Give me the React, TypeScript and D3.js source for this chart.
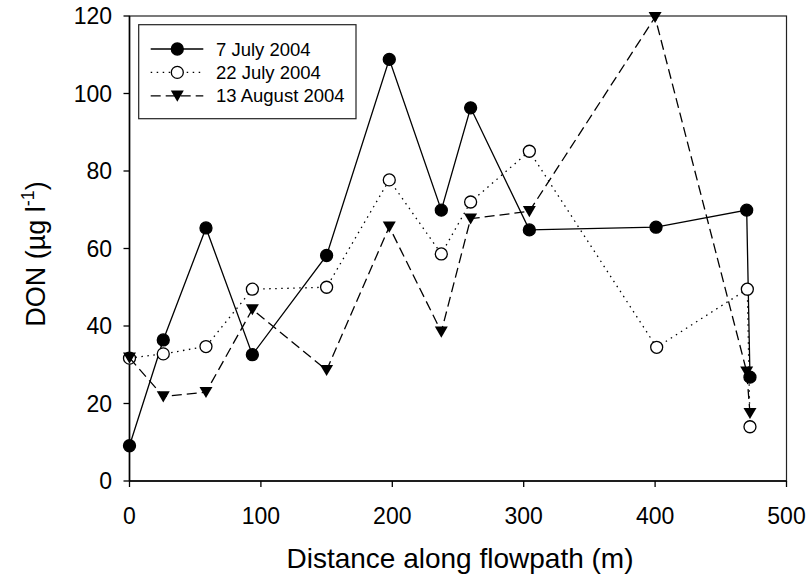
import * as d3 from 'd3'

const series1Dist = [0, 25.7, 58.2, 93.5, 150, 197.7, 237.3, 259.6, 304.3, 400.7, 469.7, 472.2]
const series1Val = [9.1, 36.4, 65.3, 32.6, 58.2, 108.8, 69.9, 96.3, 64.8, 65.5, 69.9, 26.8]

const series2Dist = [0, 25.7, 58.2, 93.5, 150, 197.7, 237.3, 259.6, 304.3, 401.2, 470.2, 472.2]
const series2Val = [31.7, 32.8, 34.7, 49.5, 50, 77.7, 58.6, 72, 85.1, 34.5, 49.5, 14.0]

const series3Dist = [0, 25.7, 58.2, 93.5, 150, 197.7, 237.3, 259.6, 304.3, 400, 469.7, 472.2]
const series3Val = [31.8, 21.8, 22.9, 44.3, 28.6, 65.6, 38.5, 67.7, 69.6, 119.7, 28.2, 17.5]

const seriesNames = ['7 July 2004', '22 July 2004', '13 August 2004']
const xTicks = [0, 100, 200, 300, 400, 500]
const yTicks = [0, 20, 40, 60, 80, 100, 120]

const font = '"Liberation Sans", Arial, sans-serif'

type Marker = 'filled' | 'open' | 'triangle'

function Mark({ x, y, kind }: { x: number; y: number; kind: Marker }) {
  if (kind === 'triangle') {
    const s = 6.5
    return <path d={`M${x - s},${y - s * 0.8}L${x + s},${y - s * 0.8}L${x},${y + s * 0.9}Z`} fill="#000" />
  }
  return (
    <circle cx={x} cy={y} r={6} fill={kind === 'filled' ? '#000' : '#fff'} stroke="#000" strokeWidth={1.3} />
  )
}

export default function App() {
  const width = 810
  const height = 579
  const x = d3.scaleLinear().domain([0, 500]).range([129.5, 786.5])
  const y = d3.scaleLinear().domain([0, 120]).range([481, 16])

  const series = [
    { dist: series1Dist, val: series1Val, kind: 'filled' as Marker, dash: undefined },
    { dist: series2Dist, val: series2Val, kind: 'open' as Marker, dash: '1.5,4.5' },
    { dist: series3Dist, val: series3Val, kind: 'triangle' as Marker, dash: '10,5' },
  ]

  const line = d3.line<[number, number]>()
    .x(d => x(d[0]))
    .y(d => y(d[1]))

  return (
    <svg width={width} height={height} style={{ position: 'absolute', left: 0, top: 0, background: '#fff' }} fontFamily={font}>
      {/* frame */}
      <rect x={x(0)} y={y(120)} width={x(500) - x(0)} height={y(0) - y(120)} fill="none" stroke="#222" strokeWidth={1.2} />
      <line x1={x(0)} x2={x(0)} y1={y(0)} y2={y(120)} stroke="#000" strokeWidth={1.6} />
      <line x1={x(0)} x2={x(500)} y1={y(0)} y2={y(0)} stroke="#000" strokeWidth={1.6} />

      {xTicks.map(t => (
        <g key={'x' + t}>
          <line x1={x(t)} x2={x(t)} y1={y(0)} y2={y(0) + 6} stroke="#000" strokeWidth={1.3} />
          <text x={x(t)} y={524} textAnchor="middle" fontSize={23}>{t}</text>
        </g>
      ))}
      {yTicks.map(t => (
        <g key={'y' + t}>
          <line x1={x(0) - 6} x2={x(0)} y1={y(t)} y2={y(t)} stroke="#000" strokeWidth={1.3} />
          <text x={112} y={y(t)} dy="0.36em" textAnchor="end" fontSize={23}>{t}</text>
        </g>
      ))}

      <text x={460} y={568} textAnchor="middle" fontSize={28}>Distance along flowpath (m)</text>
      <text transform="translate(45,254) rotate(-90)" textAnchor="middle" fontSize={27}>
        DON (µg l<tspan fontSize={18} dy={-11}>-1</tspan><tspan dy={11}>)</tspan>
      </text>

      {series.map((s, i) => {
        const pts = s.dist.map((d, j) => [d, s.val[j]] as [number, number])
        return (
          <g key={'s' + i}>
            <path d={line(pts) || ''} fill="none" stroke="#000" strokeWidth={1.3} strokeDasharray={s.dash} />
            {pts.map((p, j) => <Mark key={j} x={x(p[0])} y={y(p[1])} kind={s.kind} />)}
          </g>
        )
      })}

      {/* legend */}
      <rect x={138.7} y={24.7} width={217.3} height={94} fill="#fff" stroke="#222" strokeWidth={1.2} />
      {series.map((s, i) => {
        const ly = 49 + i * 23.4
        return (
          <g key={'l' + i}>
            <line x1={150.7} x2={203.3} y1={ly} y2={ly} stroke="#000" strokeWidth={1.3} strokeDasharray={s.dash} />
            <Mark x={177.3} y={ly} kind={s.kind} />
            <text x={216} y={ly} dy="0.36em" fontSize={18.5}>{seriesNames[i]}</text>
          </g>
        )
      })}
    </svg>
  )
}
